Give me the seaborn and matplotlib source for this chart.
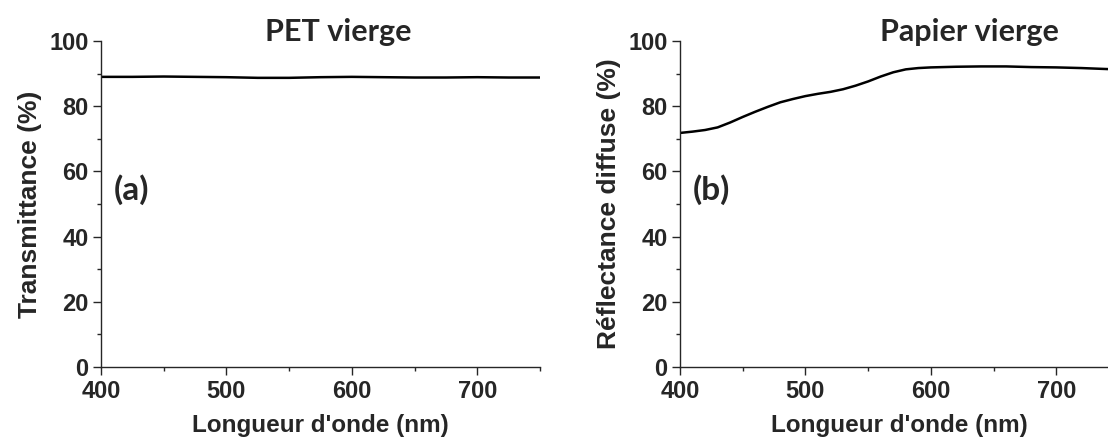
import numpy as np
import seaborn as sns
import matplotlib.pyplot as plt
from matplotlib.ticker import MultipleLocator

# données
lambda_pet = [400, 425, 450, 475, 500, 525, 550, 575, 600, 625, 650, 675, 700, 725, 750]
trans_pet = [89.0, 89.0, 89.1, 89.0, 88.9, 88.7, 88.7, 88.9, 89.0, 88.9, 88.8, 88.8, 88.9, 88.8, 88.8]

lambda_papier = [400, 410, 420, 430, 440, 450, 460, 470, 480, 490, 500, 510, 520, 530,
                 540, 550, 560, 570, 580, 590, 600, 620, 640, 660, 680, 700, 720, 740, 760]
refl_papier = [71.8, 72.2, 72.7, 73.5, 75.0, 76.7, 78.3, 79.8, 81.2, 82.2, 83.1, 83.8, 84.4, 85.2,
               86.3, 87.6, 89.1, 90.4, 91.3, 91.7, 91.9, 92.1, 92.2, 92.2, 92.0, 91.9, 91.7, 91.4, 91.2]

titres = ['PET vierge', 'Papier vierge']
lettres = ['(a)', '(b)']
labels_y = ['Transmittance (%)', 'Réflectance diffuse (%)']
label_x = "Longueur d'onde (nm)"

sns.set_style('ticks')
plt.rcParams['font.family'] = ['Liberation Sans', 'DejaVu Sans']
plt.rcParams['font.weight'] = 'bold'

fig = plt.figure(figsize=(11.08, 4.41), dpi=100)
ax1 = fig.add_axes([101 / 1108, 74 / 441, 439 / 1108, 326 / 441])
ax2 = fig.add_axes([680 / 1108, 74 / 441, 439 / 1108, 326 / 441])

sns.lineplot(x=lambda_pet, y=trans_pet, ax=ax1, color='black', linewidth=1.8)
sns.lineplot(x=lambda_papier, y=refl_papier, ax=ax2, color='black', linewidth=1.8)

for ax, titre, lettre, ylab, xt in zip([ax1, ax2], titres, lettres, labels_y, [0.54, 0.66]):
    ax.set_xlim(400, 750)
    ax.set_ylim(0, 100)
    ax.xaxis.set_major_locator(MultipleLocator(100))
    ax.xaxis.set_minor_locator(MultipleLocator(50))
    ax.yaxis.set_major_locator(MultipleLocator(20))
    ax.yaxis.set_minor_locator(MultipleLocator(10))
    ax.tick_params(which='major', length=6, width=1, labelsize=17, pad=3)
    ax.tick_params(which='minor', length=3, width=1)
    for lab in ax.get_xticklabels() + ax.get_yticklabels():
        lab.set_fontweight('bold')
    sns.despine(ax=ax)
    for s in ['left', 'bottom']:
        ax.spines[s].set_linewidth(1)
    ax.set_xlabel(label_x, fontsize=17.5, fontweight='bold', labelpad=8)
    ax.set_ylabel(ylab, fontsize=19, fontweight='bold', labelpad=5)
    ax.text(xt, 1.0, titre, transform=ax.transAxes, ha='center', va='baseline',
            fontsize=22, fontweight='bold', family=['Lato', 'DejaVu Sans'])
    ax.text(0.03, 0.545, lettre, transform=ax.transAxes, ha='left', va='center',
            fontsize=24, fontweight='bold', family=['Lato', 'DejaVu Sans'])

fig.savefig('out.png', dpi=100)
